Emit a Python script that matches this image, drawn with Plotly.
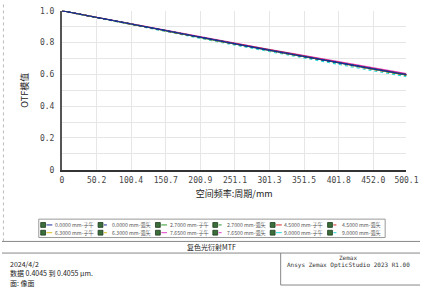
import plotly.graph_objects as go

W, H = 432, 291

# ---------------- data ----------------
freq = [0, 50, 100, 150, 200, 250, 300, 350, 400, 450, 500.1]

series_names = [
    "0.0000 mm-子午", "0.0000 mm-弧矢",
    "2.7000 mm-子午", "2.7000 mm-弧矢",
    "4.5000 mm-子午", "4.5000 mm-弧矢",
    "6.3000 mm-子午", "6.3000 mm-弧矢",
    "7.6500 mm-子午", "7.6500 mm-弧矢",
    "9.0000 mm-子午", "9.0000 mm-弧矢",
]

f00_t = [1.0, 0.958, 0.916, 0.875, 0.834, 0.793, 0.753, 0.713, 0.674, 0.636, 0.598]
f00_s = [1.0, 0.958, 0.916, 0.875, 0.834, 0.793, 0.753, 0.713, 0.674, 0.636, 0.598]
f27_t = [1.0, 0.957, 0.915, 0.873, 0.832, 0.791, 0.751, 0.711, 0.672, 0.633, 0.595]
f27_s = [1.0, 0.958, 0.916, 0.874, 0.833, 0.792, 0.752, 0.712, 0.673, 0.635, 0.597]
f45_t = [1.0, 0.958, 0.917, 0.876, 0.835, 0.795, 0.755, 0.715, 0.676, 0.638, 0.600]
f45_s = [1.0, 0.957, 0.915, 0.874, 0.833, 0.792, 0.752, 0.712, 0.673, 0.634, 0.596]
f63_t = [1.0, 0.958, 0.916, 0.875, 0.834, 0.793, 0.753, 0.713, 0.674, 0.636, 0.598]
f63_s = [1.0, 0.957, 0.914, 0.872, 0.831, 0.790, 0.750, 0.710, 0.670, 0.631, 0.593]
f765_t = [1.0, 0.959, 0.918, 0.877, 0.837, 0.797, 0.758, 0.719, 0.680, 0.642, 0.605]
f765_s = [1.0, 0.957, 0.915, 0.873, 0.832, 0.791, 0.751, 0.711, 0.671, 0.632, 0.594]
f90_t = [1.0, 0.958, 0.917, 0.876, 0.835, 0.795, 0.755, 0.715, 0.676, 0.638, 0.600]
f90_s = [1.0, 0.956, 0.912, 0.869, 0.827, 0.785, 0.744, 0.703, 0.663, 0.624, 0.586]

series_values = [f00_t, f00_s, f27_t, f27_s, f45_t, f45_s,
                 f63_t, f63_s, f765_t, f765_s, f90_t, f90_s]

x_tick_vals = [0, 50.2, 100.4, 150.7, 200.9, 251.1, 301.3, 351.5, 401.8, 452.0, 500.1]
x_tick_text = ["0", "50.2", "100.4", "150.7", "200.9", "251.1", "301.3",
               "351.5", "401.8", "452.0", "500.1"]
y_tick_vals = [0, 0.1, 0.2, 0.3, 0.4, 0.5, 0.6, 0.7, 0.8, 0.9, 1.0]
y_tick_text = ["0", "", "0.2", "", "0.4", "", "0.6", "", "0.8", "", "1.0"]

# ---------------- styles ----------------
field_colors = ["#1c2a9c", "#1c2a9c", "#2f9a2f", "#2f9a2f", "#d42a2a", "#d42a2a",
                "#d9bd1c", "#d9bd1c", "#e040c8", "#e040c8", "#22d8d8", "#22d8d8"]
dashes = ["solid", "dot"] * 6

def px(x):
    return x / W

def py(y):
    return 1 - y / H

CJK = "Noto Sans CJK SC"
MONO = "DejaVu Sans Mono"

fig = go.Figure()
# draw in reverse so the on-axis (dark blue) field ends on top, as in the reference
for name, vals, c, d in reversed(list(zip(series_names, series_values, field_colors, dashes))):
    fig.add_trace(go.Scatter(x=freq, y=vals, mode="lines", name=name,
                             line=dict(color=c, width=1.2, dash=d),
                             showlegend=False))

fig.update_layout(
    width=W, height=H,
    margin=dict(l=0, r=0, t=0, b=0),
    paper_bgcolor="white", plot_bgcolor="white",
    xaxis=dict(domain=[px(62), px(418)], range=[0, 500.1],
               tickvals=x_tick_vals, ticktext=x_tick_text,
               showgrid=True, gridcolor="#e6e6e6", gridwidth=1,
               showline=True, linecolor="#333333", linewidth=2,
               zeroline=False, ticks="", ticklabelstandoff=2,
               tickfont=dict(family=MONO, size=8, color="#444444"),
               title=dict(text="空间频率:周期/mm", standoff=6,
                          font=dict(family=CJK, size=9, color="#222222"))),
    yaxis=dict(domain=[py(171), py(7)], range=[0, 1.0],
               tickvals=y_tick_vals, ticktext=y_tick_text,
               showgrid=True, gridcolor="#e6e6e6", gridwidth=1,
               showline=True, linecolor="#555555", linewidth=2,
               zeroline=False, ticks="", ticklabelstandoff=4,
               tickfont=dict(family=MONO, size=8, color="#444444"),
               title=dict(text="OTF模值", standoff=10,
                          font=dict(family=CJK, size=9, color="#222222"))),
)

shapes = []
annotations = []

# ---------- manual legend ----------
shapes.append(dict(type="rect", xref="paper", yref="paper",
                   x0=px(38), x1=px(396), y0=py(241), y1=py(222),
                   line=dict(color="#999999", width=1), fillcolor="white"))
col_x = [40 + 59.3 * i for i in range(6)]
row_y = [228, 236]
for i, (name, c, d) in enumerate(zip(series_names, field_colors, dashes)):
    r, k = divmod(i, 6)
    x0 = col_x[k]
    yc = row_y[r]
    shapes.append(dict(type="rect", xref="paper", yref="paper",
                       x0=px(x0), x1=px(x0 + 5), y0=py(yc + 2.5), y1=py(yc - 2.5),
                       line=dict(color="#1d3b1d", width=0.8), fillcolor="#3b6e3b"))
    shapes.append(dict(type="line", xref="paper", yref="paper",
                       x0=px(x0 + 6), x1=px(x0 + 12), y0=py(yc), y1=py(yc),
                       line=dict(color=c, width=1, dash=d)))
    annotations.append(dict(xref="paper", yref="paper", x=px(x0 + 12.5), y=py(yc),
                            xanchor="left", yanchor="middle", showarrow=False,
                            text=name, font=dict(family=CJK, size=5.2, color="#555555")))

# ---------- frame / footer ----------
shapes.append(dict(type="line", xref="paper", yref="paper",
                   x0=px(1.5), x1=px(1.5), y0=py(245), y1=py(0),
                   line=dict(color="#bbbbbb", width=1, dash="dot")))
shapes.append(dict(type="line", xref="paper", yref="paper",
                   x0=0, x1=1, y0=py(245), y1=py(245),
                   line=dict(color="#888888", width=1)))
shapes.append(dict(type="line", xref="paper", yref="paper",
                   x0=0, x1=1, y0=py(257), y1=py(257),
                   line=dict(color="#888888", width=1)))
shapes.append(dict(type="line", xref="paper", yref="paper",
                   x0=px(288), x1=px(288), y0=py(290), y1=py(257),
                   line=dict(color="#888888", width=1)))
shapes.append(dict(type="line", xref="paper", yref="paper",
                   x0=px(288), x1=1, y0=py(290), y1=py(290),
                   line=dict(color="#888888", width=1)))

annotations.append(dict(xref="paper", yref="paper", x=0.5, y=py(251),
                        xanchor="center", yanchor="middle", showarrow=False,
                        text="复色光衍射MTF", font=dict(family=CJK, size=7, color="#222222")))
for txt, yy in [("2024/4/2", 268), ("数据 0.4045 到 0.4055 μm.", 278), ("面: 像面", 288)]:
    annotations.append(dict(xref="paper", yref="paper", x=px(6), y=py(yy),
                            xanchor="left", yanchor="middle", showarrow=False,
                            text=txt, font=dict(family=CJK, size=7, color="#222222")))
annotations.append(dict(xref="paper", yref="paper", x=px(358), y=py(262),
                        xanchor="center", yanchor="middle", showarrow=False,
                        text="Zemax", font=dict(family=MONO, size=6, color="#333333")))
annotations.append(dict(xref="paper", yref="paper", x=px(358), y=py(269),
                        xanchor="center", yanchor="middle", showarrow=False,
                        text="Ansys Zemax OpticStudio 2023 R1.00",
                        font=dict(family=MONO, size=6, color="#333333")))

fig.update_layout(shapes=shapes, annotations=annotations)
fig.write_html("out.html")
